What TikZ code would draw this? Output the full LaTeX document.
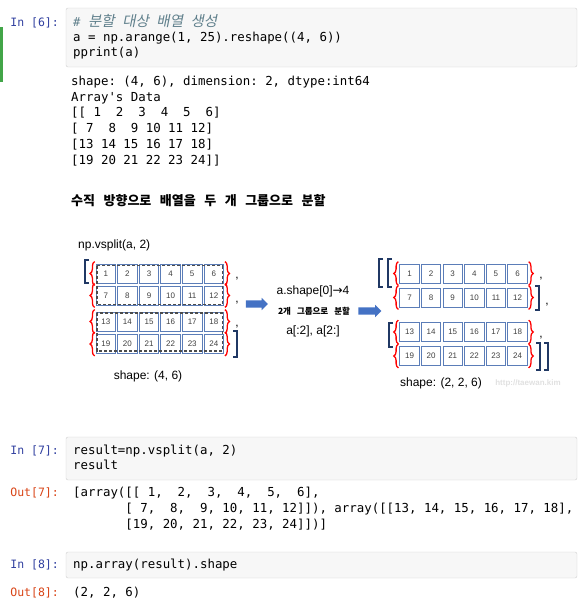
\documentclass[tikz,border=0pt]{standalone}
\usepackage{fontspec}
\setmainfont{Liberation Sans}
\setmonofont{DejaVu Sans Mono}
\newfontfamily\kofont{Noto Sans CJK KR}
\newfontfamily\koslant{Noto Sans CJK KR}[FakeSlant=0.2]
\newfontfamily\symfont{DejaVu Sans}
\usepackage{tikz}
\usetikzlibrary{shapes.arrows,decorations.pathreplacing}
\definecolor{cellblue}{RGB}{91,125,184}
\definecolor{navy}{RGB}{32,56,100}
\definecolor{incolor}{RGB}{48,63,159}
\definecolor{outcolor}{RGB}{216,67,21}
\definecolor{boxfill}{RGB}{247,247,247}
\definecolor{boxline}{RGB}{207,207,207}
\definecolor{arrowblue}{RGB}{68,114,196}
\definecolor{comment}{RGB}{96,128,140}
\definecolor{editgreen}{RGB}{66,165,72}
\tikzstyle{cell} = [draw=cellblue, line width=0.8pt, fill=white, minimum width=19.5pt, minimum height=19pt, inner sep=0pt, font=\fontsize{8}{8}\selectfont, text=black!75]
\tikzstyle{code} = [anchor=west, inner sep=0pt, font=\ttfamily\fontsize{12.4}{16}\selectfont, text height=9pt, text depth=3pt]
\tikzstyle{lbl} = [inner sep=0pt, font=\fontsize{12}{14}\selectfont]
\tikzset{
  inbox/.style ={draw=boxline, fill=boxfill, rounded corners=2pt},
  inprompt/.style ={code, anchor=east, text=incolor, font=\ttfamily\fontsize{11.5}{14}\selectfont},
  outprompt/.style ={inprompt, text=outcolor},
  rowbrace/.style ={decorate, decoration={brace, amplitude=4.5pt}, draw=red, line width=1.3pt},
  sqbr/.style ={draw=navy, line width=1.6pt},
  group/.style ={draw=black!70, line width=1.4pt, dash pattern=on 3pt off 2pt},
  blockarrow/.style ={single arrow, fill=arrowblue, inner sep=3.4pt, single arrow head extend=2.6pt},
  comma/.style ={inner sep=0pt, font=\fontsize{12}{12}\selectfont}
}
\begin{document}
\begin{tikzpicture}[x=1pt,y=-1pt]
	\useasboundingbox (0,0) rectangle (587,606);
	\fill[editgreen] (0,27) rectangle (2.5,82);
	\draw[inbox] (66,8) rectangle (577,67);
	\node[inprompt] (in6) at (59,23) {In [6]:};
	\node[code, text=comment] (c1) at (73,23) {\itshape\# {\koslant\fontsize{14.5}{16}\selectfont 분할} {\koslant\fontsize{14.5}{16}\selectfont 대상} {\koslant\fontsize{14.5}{16}\selectfont 배열} {\koslant\fontsize{14.5}{16}\selectfont 생성}};
	\node[code] (c2) at (73,38) {a = np.arange(1, 25).reshape((4, 6))};
	\node[code] (c3) at (73,53) {pprint(a)};
	\node[code] (o1) at (71,82) {shape: (4, 6), dimension: 2, dtype:int64};
	\node[code] (o2) at (71,98) {Array's Data};
	\node[code] (o3) at (71,113) {[[~1~~2~~3~~4~~5~~6]};
	\node[code] (o4) at (71,129) {[~7~~8~~9~10~11~12]};
	\node[code] (o5) at (71,145) {[13~14~15~16~17~18]};
	\node[code] (o6) at (71,161) {[19~20~21~22~23~24]]};

	\node[anchor=west, inner sep=0pt, font=\kofont\bfseries\fontsize{13}{14}\selectfont] (title) at (71,201) {\spaceskip=8.5pt 수직 방향으로 배열을 두 개 그룹으로 분할};
	\node[lbl, anchor=west] (vs) at (78,245) {np.vsplit(a, 2)};

	\foreach \r/\y in {1/273.5,2/295.5,3/321.5,4/344}
		\foreach \c in {1,...,6} {
			\pgfmathtruncatemacro\v{(\r-1)*6+\c}
			\node[cell] (l-\r-\c) at (84.2+21.6*\c,\y) {\v};
		}
	\foreach \r/\y in {1/273.5,2/297.5,3/332,4/356}
		\foreach \c in {1,...,6} {
			\pgfmathtruncatemacro\v{(\r-1)*6+\c}
			\node[cell] (r-\r-\c) at (387.9+21.6*\c,\y) {\v};
		}
	\foreach \s in {l,r}
		\foreach \r in {1,...,4} {
			\draw[rowbrace] ([xshift=-1pt,yshift=-2pt]\s-\r-1.south west) -- ([xshift=-1pt,yshift=2pt]\s-\r-1.north west);
			\draw[rowbrace] ([xshift=1pt,yshift=2pt]\s-\r-6.north east) -- ([xshift=1pt,yshift=-2pt]\s-\r-6.south east);
		}
	\draw[group] ([xshift=1.5pt,yshift=-2pt]l-1-1.north west) rectangle ([xshift=-1.5pt,yshift=1pt]l-2-6.south east);
	\draw[group] ([xshift=1.5pt,yshift=-1.5pt]l-3-1.north west) rectangle ([xshift=-1.5pt,yshift=3pt]l-4-6.south east);

	\draw[sqbr] (89,260) -- (85,260) -- (85,283) -- (89,283);
	\draw[sqbr] (233,331) -- (237,331) -- (237,357) -- (233,357);
	\node[comma] (k1) at (237,279) {,};
	\node[comma] (k2) at (237,303) {,};
	\node[comma] (k3) at (237,327) {,};

	\draw[sqbr] (383,259) -- (379,259) -- (379,287) -- (383,287);
	\draw[sqbr] (392,259) -- (388,259) -- (388,287) -- (392,287);
	\draw[sqbr] (535,286) -- (539,286) -- (539,310) -- (535,310);
	\draw[sqbr] (393,323) -- (389,323) -- (389,347) -- (393,347);
	\draw[sqbr] (536,343) -- (540,343) -- (540,370) -- (536,370);
	\draw[sqbr] (544,343) -- (548,343) -- (548,370) -- (544,370);
	\node[comma] (k4) at (541,279) {,};
	\node[comma] (k5) at (547,305) {,};
	\node[comma] (k6) at (541,338) {,};

	\node[blockarrow, minimum height=22pt] (arr1) at (255,304) {};
	\node[blockarrow, minimum height=23pt] (arr2) at (368,311) {};
	\node[lbl] (ax) at (313,291) {a.shape[0]{\symfont →}4};
	\node[inner sep=0pt, font=\kofont\bfseries\fontsize{8.5}{9}\selectfont] (grp) at (314,311) {\spaceskip=6pt 2개 그룹으로 분할};
	\node[lbl] (sl) at (313,331) {a[:2], a[2:]};

	\node[lbl] (sh1) at (148,376) {shape: (4, 6)};
	\node[lbl] (sh2) at (441,383) {shape: (2, 2, 6)};
	\node[inner sep=0pt, text=black!12, font=\bfseries\fontsize{8}{8}\selectfont] (wm) at (528,383) {http://taewan.kim};

	\draw[inbox] (66,437) rectangle (577,480);
	\node[inprompt] (in7) at (59,451) {In [7]:};
	\node[code] (c4) at (73,451) {result=np.vsplit(a, 2)};
	\node[code] (c5) at (73,466) {result};
	\node[outprompt] (out7) at (59,493) {Out[7]:};
	\node[code] (o7) at (73,493) {[array([[~1,~~2,~~3,~~4,~~5,~~6],};
	\node[code] (o8) at (73,509) {~~~~~~~[~7,~~8,~~9,~10,~11,~12]]),~array([[13,~14,~15,~16,~17,~18],};
	\node[code] (o9) at (73,525) {~~~~~~~[19,~20,~21,~22,~23,~24]])]};

	\draw[inbox] (66,552) rectangle (577,578);
	\node[inprompt] (in8) at (59,565) {In [8]:};
	\node[code] (c6) at (73,565) {np.array(result).shape};
	\node[outprompt] (out8) at (59,593) {Out[8]:};
	\node[code] (o10) at (73,593) {(2, 2, 6)};
\end{tikzpicture}
\end{document}
